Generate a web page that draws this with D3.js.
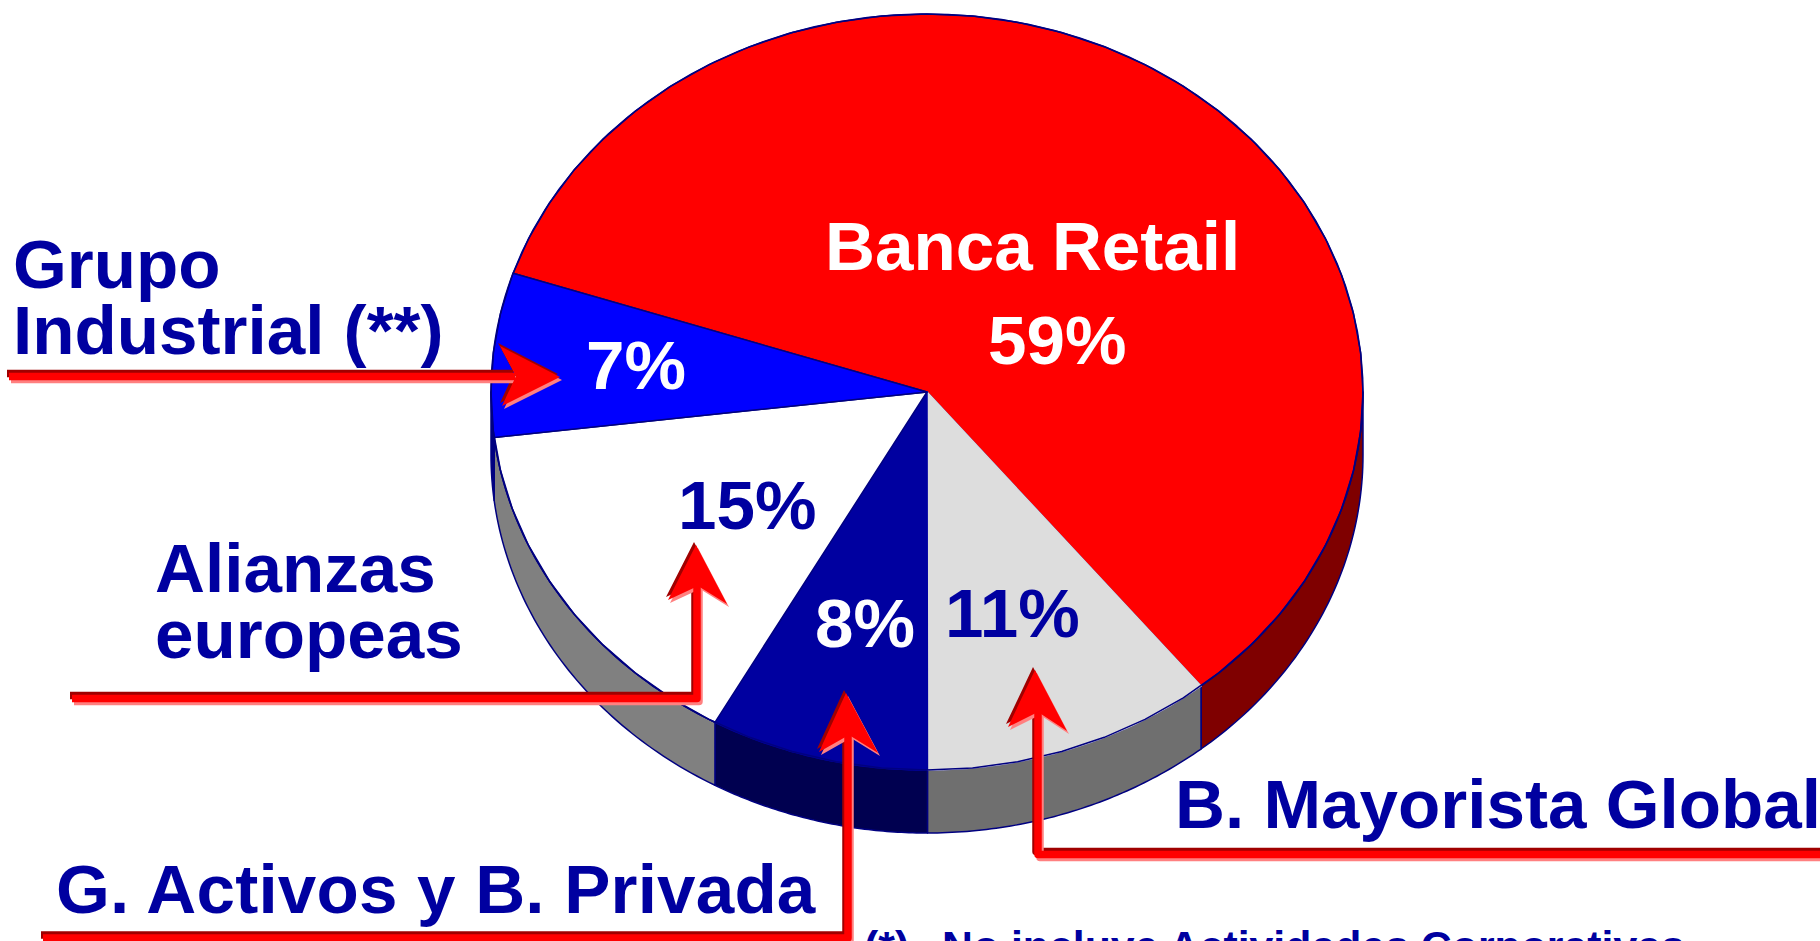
<!DOCTYPE html>
<html><head><meta charset="utf-8">
<script src="https://cdn.jsdelivr.net/npm/d3@7/dist/d3.min.js"></script>
<style>html,body{margin:0;padding:0;background:#fff;overflow:hidden}svg{display:block}
text{font-family:"Liberation Sans",Arial,sans-serif;font-weight:700}</style></head>
<body><svg id="c" width="1820" height="941"></svg>
<script>
const categories=["Banca Retail","B. Mayorista Global","G. Activos y B. Privada","Alianzas europeas","Grupo Industrial (**)"];
const percentLabels=[59,11,8,15,7];
const shares=[59.1,10.8,8.1,15,7];
const topColors=["#ff0000","#dddddd","#0000a0","#ffffff","#0000ff"];
const wallColors=["#7f0000","#6f6f6f","#000050","#808080","#000080"];
const NAVY="#0000a0", EDGE="#000080";
const W=1820,H=941,cx=927,cy=392,rx=436,ry=378,depth=63;
const startDeg=288.3;
const svg=d3.select("#c");
const x=d3.scaleLinear().domain([-1,1]).range([cx-rx,cx+rx]);
const y=d3.scaleLinear().domain([-1,1]).range([cy-ry,cy+ry]);
const start=startDeg*Math.PI/180;
const arcs=d3.pie().sort(null).startAngle(start).endAngle(start+2*Math.PI)(shares);
const pt=(a,dy=0)=>[x(Math.sin(a)),y(-Math.cos(a))+dy];
const samples=(a0,a1,dy=0)=>d3.range(0,61).map(i=>pt(a0+(a1-a0)*i/60,dy));
const line=d3.line();
const TAU=2*Math.PI, PI=Math.PI;
const wallG=svg.append("g");
arcs.forEach((d,i)=>{
  for(const k of [0,1]){
    const lo=Math.max(d.startAngle,PI/2+k*TAU), hi=Math.min(d.endAngle,3*PI/2+k*TAU);
    if(hi<=lo) continue;
    const p=samples(lo,hi,0).concat(samples(hi,lo,depth));
    wallG.append("path").attr("d",line(p)+"Z").attr("fill",wallColors[i]).attr("stroke",EDGE).attr("stroke-width",1.5).attr("stroke-linejoin","round");
  }
});
const topG=svg.append("g");
arcs.forEach((d,i)=>{
  const p=[[x(0),y(0)]].concat(samples(d.startAngle,d.endAngle));
  topG.append("path").attr("d",line(p)+"Z").attr("fill",topColors[i]).attr("stroke",i===1||i===2?topColors[i]:EDGE).attr("stroke-width",1.5).attr("stroke-linejoin","round");
});
topG.append("path").attr("d",line(samples(0,TAU))+"Z").attr("fill","none").attr("stroke",EDGE).attr("stroke-width",1.5);

function txt(s,tx,ty,fill,size=69.2){
  return svg.append("text").attr("x",tx).attr("y",ty).attr("fill",fill).attr("font-size",size).text(s);
}
txt("Grupo",13,288,NAVY);
txt("Industrial (**)",13,354,NAVY);
txt("Alianzas",155,592,NAVY);
txt("europeas",155,658,NAVY);
txt("G. Activos y B. Privada",56,913,NAVY).attr("letter-spacing",0.2);
txt("B. Mayorista Global",1175,828,NAVY);
txt("Banca Retail",825,270,"#fff");
txt(percentLabels[0]+"%",988,364,"#fff");
txt(percentLabels[4]+"%",586,389,"#fff");
txt(percentLabels[3]+"%",678,529,NAVY);
txt(percentLabels[2]+"%",815,647,"#fff");
txt(percentLabels[1]+"%",945,637,NAVY);
txt("(*)",864,961,NAVY,42.8);
txt("No incluye Actividades Corporativas",942,961,NAVY,42.8);

const arrows=[
 {path:[[9,376.5],[515,376.5]],head:[[560,377],[500,346],[516,376],[502,406]]},
 {path:[[72,698.5],[697,698.5],[697,585]],head:[[696,545],[727,604],[698,586],[668,600]]},
 {path:[[43,938],[848,938],[848,735]],head:[[846,693],[878,753],[849,735],[819,752]]},
 {path:[[1860,854.5],[1038,854.5],[1038,712]],head:[[1035,670],[1067,731],[1038,712],[1008,727]]}
];
const layers=[{dx:-2,dy:-3,c:"#a00000"},{dx:2,dy:3,c:"#ff8080"},{dx:0,dy:0,c:"#ff0000"}];
const ag=svg.append("g");
for(const l of layers){
  const g=ag.append("g").attr("transform",`translate(${l.dx},${l.dy})`);
  for(const a of arrows){
    g.append("path").attr("d",line(a.path)).attr("fill","none").attr("stroke",l.c).attr("stroke-width",7.5).attr("stroke-linejoin","round");
    g.append("path").attr("d",line(a.head)+"Z").attr("fill",l.c);
  }
}
</script></body></html>
